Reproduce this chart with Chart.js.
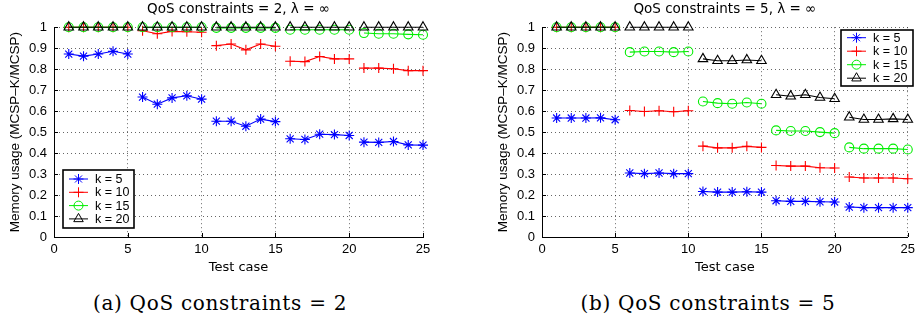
<!DOCTYPE html>
<html>
<head>
<meta charset="utf-8">
<script src="https://cdn.jsdelivr.net/npm/chart.js@4.4.1/dist/chart.umd.min.js"></script>
<style>
  body { margin: 0; background: #fff; width: 920px; height: 322px; position: relative; overflow: hidden; }
  .panel { position: absolute; top: 0; width: 460px; height: 275px; }
  .caption { position: absolute; top: 290px; text-align: center; font-family: "DejaVu Serif", serif; font-size: 20px; letter-spacing: 0.7px; color: #000; line-height: 26px; }
</style>
</head>
<body>
<div class="panel" style="left:0"><canvas id="qos2"></canvas></div>
<div class="panel" style="left:460px"><canvas id="qos5"></canvas></div>
<div class="caption" style="left:0; width:440px">(a) QoS constraints = 2</div>
<div class="caption" style="left:478px; width:460px">(b) QoS constraints = 5</div>
<script>
const testCase = [1, 2, 3, 4, 5, 6, 7, 8, 9, 10, 11, 12, 13, 14, 15, 16, 17, 18, 19, 20, 21, 22, 23, 24, 25];
const seriesNames = ['k = 5', 'k = 10', 'k = 15', 'k = 20'];
const yTicks = [0, 0.1, 0.2, 0.3, 0.4, 0.5, 0.6, 0.7, 0.8, 0.9, 1];

// QoS constraints = 2
const q2k5 = [0.872, 0.862, 0.872, 0.885, 0.872, 0.667, 0.633, 0.663, 0.673, 0.657, 0.552, 0.552, 0.528, 0.562, 0.550,
              0.468, 0.465, 0.490, 0.488, 0.484, 0.452, 0.451, 0.455, 0.439, 0.438];
const q2k10 = [1, 1, 1, 1, 1, 0.983, 0.969, 0.980, 0.978, 0.976, 0.912, 0.920, 0.892, 0.920, 0.909,
               0.838, 0.836, 0.860, 0.849, 0.849, 0.805, 0.805, 0.802, 0.793, 0.793];
const q2k15 = [1, 1, 1, 1, 1, 1, 1, 1, 1, 1, 0.997, 0.997, 0.997, 0.997, 0.997,
               0.988, 0.988, 0.988, 0.988, 0.988, 0.972, 0.969, 0.969, 0.966, 0.964];
const q2k20 = [1, 1, 1, 1, 1, 1, 1, 1, 1, 1, 1, 1, 1, 1, 1, 1, 1, 1, 1, 1, 1, 1, 1, 1, 1];

// QoS constraints = 5
const q5k5 = [0.567, 0.567, 0.567, 0.568, 0.559, 0.305, 0.302, 0.305, 0.302, 0.302, 0.217, 0.214, 0.214, 0.216, 0.214,
              0.173, 0.170, 0.170, 0.168, 0.167, 0.143, 0.140, 0.140, 0.140, 0.140];
const q5k10 = [1, 1, 1, 1, 1, 0.603, 0.598, 0.602, 0.597, 0.602, 0.433, 0.425, 0.425, 0.432, 0.427,
               0.341, 0.338, 0.338, 0.330, 0.329, 0.286, 0.281, 0.281, 0.281, 0.278];
const q5k15 = [1, 1, 1, 1, 1, 0.881, 0.884, 0.884, 0.881, 0.884, 0.646, 0.638, 0.635, 0.641, 0.635,
               0.508, 0.505, 0.505, 0.500, 0.495, 0.427, 0.421, 0.421, 0.421, 0.417];
const q5k20 = [1, 1, 1, 1, 1, 1, 1, 1, 1, 1, 0.849, 0.840, 0.840, 0.844, 0.840,
               0.678, 0.671, 0.678, 0.665, 0.659, 0.571, 0.560, 0.560, 0.563, 0.560];

const colors = ['#0000ff', '#ff0000', '#00ee00', '#000000'];
const markers = ['star', 'cross', 'circle', 'triangle'];
const radii = [5, 5, 4.5, 5.5];

const FONT = '"Liberation Sans", Arial, sans-serif';
const WIDE = '"DejaVu Sans", sans-serif';

// a line is drawn only inside each group of 5 test cases
const makeDatasets = (series) => series.map((vals, i) => ({
    label: seriesNames[i],
    data: testCase.map((x, j) => ({ x: x, y: vals[j] })),
    borderColor: colors[i],
    borderWidth: 1.1,
    pointStyle: markers[i],
    pointRadius: radii[i],
    pointBorderColor: colors[i],
    pointBackgroundColor: 'rgba(0,0,0,0)',
    pointBorderWidth: 1.1,
    order: 3 - i,
    clip: false,
    segment: {
        borderColor: ctx => (ctx.p0DataIndex % 5 === 4 ? 'rgba(0,0,0,0)' : colors[i])
    }
}));

const innerTicks = {
    id: 'innerTicks',
    afterDraw(chart) {
        const { ctx, chartArea, scales: { x, y } } = chart;
        ctx.save();
        ctx.strokeStyle = '#000';
        ctx.lineWidth = 1;
        ctx.beginPath();
        y.ticks.forEach(t => {
            const py = Math.round(y.getPixelForValue(t.value)) + 0.5;
            ctx.moveTo(chartArea.left, py);
            ctx.lineTo(chartArea.left + 4, py);
        });
        x.ticks.forEach(t => {
            const px = Math.round(x.getPixelForValue(t.value)) + 0.5;
            ctx.moveTo(px, chartArea.bottom);
            ctx.lineTo(px, chartArea.bottom - 4);
        });
        ctx.stroke();
        ctx.restore();
    }
};

const boxLegend = {
    id: 'boxLegend',
    afterDraw(chart, args, opts) {
        const { ctx } = chart;
        ctx.save();
        ctx.fillStyle = '#fff';
        ctx.fillRect(opts.x, opts.y, opts.w, opts.h);
        ctx.lineWidth = 1.6;
        ctx.strokeStyle = '#000';
        ctx.strokeRect(opts.x, opts.y, opts.w, opts.h);
        ctx.font = '12.5px ' + FONT;
        ctx.textBaseline = 'middle';
        chart.data.datasets.forEach((ds, i) => {
            const cy = opts.y + opts.first + i * opts.step;
            ctx.strokeStyle = ds.borderColor;
            ctx.lineWidth = 1;
            ctx.beginPath();
            ctx.moveTo(opts.x + 6, cy);
            ctx.lineTo(opts.x + 25, cy);
            ctx.stroke();
            ctx.fillStyle = 'rgba(0,0,0,0)';
            Chart.helpers.drawPoint(ctx, { pointStyle: ds.pointStyle, radius: ds.pointRadius, borderWidth: 1, rotation: 0 }, opts.x + 15.5, cy);
            ctx.fillStyle = '#000';
            ctx.fillText(ds.label, opts.x + 32, cy + 0.5);
        });
        ctx.restore();
    }
};

const makeChart = (id, title, series, padLeft, padRight, legendBox) => new Chart(
    document.getElementById(id),
    {
        type: 'line',
        data: { datasets: makeDatasets(series) },
        options: {
            responsive: false,
            animation: false,
            layout: { padding: { left: padLeft, right: padRight, top: 0, bottom: 0 } },
            plugins: {
                legend: { display: false },
                tooltip: { enabled: false },
                title: {
                    display: true,
                    text: title,
                    fullSize: false,
                    color: '#000',
                    font: { family: WIDE, size: 13.5, weight: 'normal' },
                    padding: { top: 1, bottom: 10 }
                },
                boxLegend: legendBox
            },
            scales: {
                x: {
                    type: 'linear',
                    min: 0,
                    max: 25,
                    afterFit: (scale) => { scale.height = 38; },
                    ticks: { stepSize: 5, color: '#000', padding: 5, font: { family: FONT, size: 13 } },
                    grid: { color: 'rgba(0,0,0,0.6)', drawTicks: false, lineWidth: 1 },
                    border: { color: '#000', width: 1, dash: [1, 3] },
                    title: { display: true, text: 'Test case', color: '#000', padding: 0, font: { family: WIDE, size: 13 } }
                },
                y: {
                    min: 0,
                    max: 1,
                    afterFit: (scale) => { scale.width = 47; },
                    afterBuildTicks: (scale) => { scale.ticks = yTicks.map(v => ({ value: v })); },
                    ticks: {
                        color: '#000',
                        padding: 7,
                        font: { family: FONT, size: 13 },
                        callback: (v) => (v === 0 || v === 1 ? String(v) : v.toFixed(1))
                    },
                    grid: { color: 'rgba(0,0,0,0.6)', drawTicks: false, lineWidth: 1 },
                    border: { color: '#000', width: 1, dash: [1, 3] },
                    title: { display: true, text: 'Memory usage (MCSP–K/MCSP)', color: '#000', padding: 0, font: { family: FONT, size: 13.5 } }
                }
            }
        },
        plugins: [innerTicks, boxLegend]
    }
);

document.getElementById('qos2').width = 460;
document.getElementById('qos2').height = 275;
document.getElementById('qos5').width = 460;
document.getElementById('qos5').height = 275;

makeChart('qos2', 'QoS constraints = 2, λ = ∞', [q2k5, q2k10, q2k15, q2k20], 7, 37,
    { x: 63, y: 170, w: 71, h: 58, first: 9, step: 13.3 });
makeChart('qos5', 'QoS constraints = 5, λ = ∞', [q5k5, q5k10, q5k15, q5k20], 35, 9,
    { x: 381, y: 30, w: 72, h: 56, first: 7.7, step: 13.5 });
</script>
</body>
</html>
